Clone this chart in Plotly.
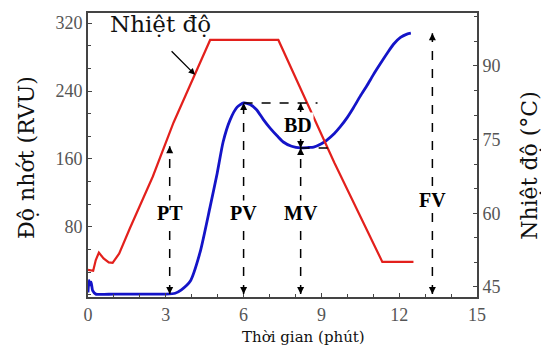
import numpy as np
import plotly.graph_objects as go

# ---------------- data ----------------
time_visc = [0.0, 0.04, 0.08, 0.12, 0.18, 0.3, 1.0, 2.0, 3.0, 3.36, 3.6, 3.94, 4.32, 4.71, 4.98,
             5.21, 5.48, 5.75, 6.0, 6.25, 6.5, 6.75, 7.03, 7.3, 7.53, 7.85, 8.2, 8.5, 8.7, 9.0,
             9.2, 9.5, 9.73, 10.0, 10.23, 10.5, 10.77, 11.0, 11.27, 11.55, 11.78, 12.05, 12.3, 12.45]
visc = [3, 17, 12, 15, 5, 1, 1, 1, 1, 2, 6, 16, 50, 104, 143,
        180, 206, 221, 226, 224, 218, 207, 196, 187, 180, 175, 173, 173.5, 174, 178,
        182, 190, 198, 209, 220, 234, 247, 259, 272, 285, 295, 303, 307, 308]

time_temp = [0, 0.2, 0.3, 0.42, 0.6, 0.8, 0.95, 1.2, 1.62, 2.5, 3.3, 4.13, 4.71, 7.34, 9.5, 11.35, 12.55]
temp = [48.5, 48.3, 50.5, 52.0, 50.8, 50.0, 49.9, 51.8, 57.0, 67.5, 78.5, 88.2, 95.3, 95.3, 70.3, 50.1, 50.1]

x_ticks = [0, 3, 6, 9, 12, 15]
y_ticks = [80, 160, 240, 320]
y2_ticks = [45, 60, 75, 90]

pt_time = 3.15      # pasting time marker
pt_top = 175
fv_time = 13.28
peak_line_end = 8.85
trough_line_end = 9.27
label_level = 96
fv_label_level = 112
base_level = 1

# derived key points
tv = np.array(time_visc)
vv = np.array(visc)
i_pk = int(np.argmax(np.where(tv < 8, vv, -1)))
t_pk, v_pk = tv[i_pk], vv[i_pk]
mask = (tv > t_pk) & (tv < 10)
i_tr = int(np.where(mask)[0][np.argmin(vv[mask])])
t_tr, v_tr = tv[i_tr], vv[i_tr]
v_fv = vv[-1]

fig = go.Figure()
fig.add_trace(go.Scatter(x=time_temp, y=temp, mode="lines", yaxis="y2",
                         line=dict(color="#e3201c", width=2.2), showlegend=False))
fig.add_trace(go.Scatter(x=time_visc, y=visc, mode="lines",
                         line=dict(color="#1414c8", width=2.8, shape="spline", smoothing=0.6),
                         showlegend=False))

dash = dict(color="black", width=1.5, dash="dash")
segs = [
    (pt_time, base_level, pt_time, pt_top),
    (t_pk, base_level, t_pk, v_pk),
    (t_pk, v_pk, peak_line_end, v_pk),
    (t_tr, base_level, t_tr, v_tr),
    (t_tr, v_tr, t_tr, v_pk),
    (t_tr, v_tr, trough_line_end, v_tr),
    (fv_time, base_level, fv_time, v_fv),
]
for x0, y0, x1, y1 in segs:
    fig.add_shape(type="line", x0=x0, y0=y0, x1=x1, y1=y1, xref="x", yref="y", line=dash)

ann = []
heads = [
    (pt_time, base_level, -1), (pt_time, pt_top, 1),
    (t_pk, base_level, -1), (t_pk, v_pk, 1),
    (t_tr, base_level, -1), (t_tr, v_tr, 1),
    (t_tr, v_pk, 1), (t_tr, v_tr, -1),
    (fv_time, base_level, -1), (fv_time, v_fv, 1),
]
for x, y, d in heads:
    ann.append(dict(x=x, y=y, xref="x", yref="y", text="", showarrow=True,
                    ax=0, ay=8 * d, arrowhead=2, arrowsize=1, arrowwidth=1.4,
                    arrowcolor="black", standoff=0))

lab_font = dict(family="Liberation Serif", size=20, color="black")
for txt, x, y in [("PT", pt_time, label_level), ("PV", t_pk, label_level),
                  ("MV", t_tr, label_level), ("FV", fv_time, fv_label_level),
                  ("BD", t_tr - 0.1, (v_pk + v_tr) / 2)]:
    ann.append(dict(x=x, y=y, xref="x", yref="y", text="<b>%s</b>" % txt, showarrow=False,
                    font=lab_font, bgcolor="white", borderpad=1,
                    xanchor="center", yanchor="middle"))

ann.append(dict(x=2.78, y=319, xref="x", yref="y", text="Nhiệt độ", showarrow=False,
                xanchor="center", yanchor="middle",
                font=dict(family="DejaVu Serif", size=23, color="#111")))
ann.append(dict(x=4.13, y=88.2, xref="x", yref="y2", text="", showarrow=True,
                ax=-25, ay=-25, arrowhead=2, arrowsize=1, arrowwidth=1.3,
                arrowcolor="black", standoff=0))
ann.append(dict(x=-0.157, y=0.493, xref="paper", yref="paper", text="Độ nhớt (RVU)",
                xanchor="center", yanchor="middle",
                textangle=-90, showarrow=False, font=dict(family="DejaVu Serif", size=22, color="#111")))
ann.append(dict(x=1.136, y=0.465, xref="paper", yref="paper", text="Nhiệt độ (°C)",
                xanchor="center", yanchor="middle",
                textangle=-90, showarrow=False, font=dict(family="DejaVu Serif", size=22, color="#111")))
ann.append(dict(x=0.555, y=-0.14, xref="paper", yref="paper", text="Thời gian (phút)",
                xanchor="center", yanchor="middle",
                showarrow=False, font=dict(family="DejaVu Serif", size=15, color="#111")))

tick_font = dict(family="Liberation Serif", size=18, color="#555")
axis_common = dict(showline=True, linecolor="#444", linewidth=2, ticks="inside",
                   tickcolor="#444", ticklen=4, showgrid=False, zeroline=False,
                   tickfont=tick_font)

# page body has an 8px default margin: compensate so the plot lands where the reference has it
fig.update_layout(
    width=541, height=339,
    margin=dict(l=80, r=72, t=5, b=50, autoexpand=False),
    paper_bgcolor="white", plot_bgcolor="white",
    xaxis=dict(range=[0, 15], tickvals=x_ticks, mirror=True,
               minor=dict(dtick=1, ticks="inside", ticklen=3, tickcolor="#444"),
               **axis_common),
    yaxis=dict(range=[-2.4, 331.8], tickvals=y_ticks,
               minor=dict(tick0=0, dtick=80 / 3, ticks="inside", ticklen=3, tickcolor="#444"),
               **axis_common),
    yaxis2=dict(range=[42.96, 100.79], tickvals=y2_ticks, overlaying="y", side="right",
                minor=dict(tick0=0, dtick=5, ticks="inside", ticklen=3, tickcolor="#444"),
                **axis_common),
    annotations=ann,
)

fig.write_html("out.html")
